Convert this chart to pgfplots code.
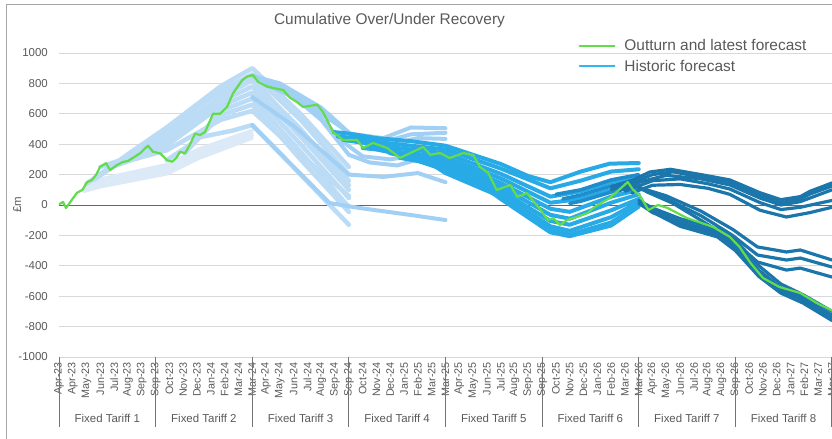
\documentclass[border=0pt]{standalone}
\usepackage{pgfplots}
\pgfplotsset{compat=1.18}
\usepackage{fontspec}
\setmainfont{Liberation Sans}
\definecolor{txt}{HTML}{595959}
\definecolor{gridc}{HTML}{D9D9D9}
\definecolor{pale}{HTML}{DCEAF7}
\definecolor{light}{HTML}{BCDCF6}
\definecolor{lmid}{HTML}{A2D0F5}
\definecolor{bright}{HTML}{27AAE6}
\definecolor{midb}{HTML}{1F8DCB}
\definecolor{dark}{HTML}{1B76AB}
\definecolor{outturn}{HTML}{62DB4C}
\definecolor{legblue}{HTML}{33B6F2}
\begin{document}
\begin{tikzpicture}
\useasboundingbox (0bp,0bp) rectangle (832bp,439bp);
\draw[color=black!35, line width=1bp] (6bp,0bp) -- (6bp,434bp) -- (840bp,434bp);
\node[text=txt, font=\fontsize{15.5}{18}\selectfont] at (389.5bp,418bp) {Cumulative Over/Under Recovery};
\node[text=txt, rotate=90, font=\fontsize{11.5}{13}\selectfont] at (17bp,234bp) {£m};
\begin{axis}[
  at={(59bp,82bp)}, anchor=south west,
  scale only axis, width=773bp, height=304bp,
  xmin=0, xmax=56, ymin=-1000, ymax=1000,
  axis line style={draw=none},
  tick style={draw=none},
  ymajorgrids, major grid style={color=gridc, line width=0.9bp},
  ytick={-1000,-800,-600,-400,-200,0,200,400,600,800,1000},
  yticklabels={-1000,-800,-600,-400,-200,0,200,400,600,800,1000},
  yticklabel style={text=txt, font=\fontsize{11.5}{13}\selectfont, inner sep=0pt},
  yticklabel shift=11bp,
  extra y ticks={0}, extra y tick labels={},
  extra y tick style={grid=major, major grid style={color=black!60, line width=0.9bp}},
  xtick={0,...,56},
  xticklabels={Apr-23,Apr-23,May-23,Jun-23,Jul-23,Aug-23,Sep-23,Sep-23,
    Oct-23,Nov-23,Dec-23,Jan-24,Feb-24,Mar-24,Mar-24,
    Apr-24,May-24,Jun-24,Jul-24,Aug-24,Sep-24,Sep-24,
    Oct-24,Nov-24,Dec-24,Jan-25,Feb-25,Mar-25,Mar-25,
    Apr-25,May-25,Jun-25,Jul-25,Aug-25,Sep-25,Sep-25,
    Oct-25,Nov-25,Dec-25,Jan-26,Feb-26,Mar-26,Mar-26,
    Apr-26,May-26,Jun-26,Jul-26,Aug-26,Aug-26,Sep-26,
    Oct-26,Nov-26,Dec-26,Jan-27,Feb-27,Mar-27,Mar-27},
  xticklabel style={rotate=90, anchor=east, text=txt, font=\fontsize{10.8}{12}\selectfont, inner sep=0pt},
  xticklabel shift=5bp,
  legend style={at={(0.672,1.052)}, anchor=north west, draw=none, fill=none,
    font=\fontsize{15.5}{17}\selectfont, text=txt, row sep=4bp, inner sep=0pt},
  legend cell align=left,
  legend image code/.code={\draw[#1] (0bp,0bp) -- (35bp,0bp); \path (42bp,0bp);},
  every axis plot/.append style={line join=round, line cap=round},
]
\addlegendimage{outturn, line width=1.8bp}
\addlegendentry{Outturn and latest forecast}
\addlegendimage{legblue, line width=1.8bp}
\addlegendentry{Historic forecast}

% ---- forecasts made in tariff 1 (pale)
\addplot[pale, line width=3.5bp, forget plot] coordinates {(1.8,90) (3,120) (7.8,205) (10.2,310) (14,440)};
\addplot[pale, line width=3.5bp, forget plot] coordinates {(1.8,110) (3,140) (7.8,225) (10.2,330) (14,455)};
\addplot[pale, line width=3.5bp, forget plot] coordinates {(2.2,140) (3.5,165) (7.8,245) (10.2,350) (14,470)};
\addplot[pale, line width=3.5bp, forget plot] coordinates {(2.5,160) (4,190) (7.8,265) (10.2,370) (14,490)};

% ---- forecasts ending Sep-24 (light)
\addplot[light, line width=4.5bp, forget plot] coordinates {(2.0,140) (5.4,360) (7.8,510) (11.7,780) (14,900) (17.5,600) (21,250)};
\addplot[light, line width=4.5bp, forget plot] coordinates {(2.5,165) (5.4,340) (7.8,480) (11.7,750) (14,860) (17.5,560) (21,200)};
\addplot[light, line width=4.5bp, forget plot] coordinates {(3.0,250) (5.4,325) (7.8,450) (11.7,710) (14,820) (17.5,500) (21,130)};
\addplot[light, line width=4.5bp, forget plot] coordinates {(4.2,265) (6,345) (7.8,420) (11.7,680) (14,780) (17.5,450) (21,100)};
\addplot[light, line width=4.5bp, forget plot] coordinates {(5.4,310) (7.8,390) (11.7,650) (14,740) (17.5,400) (21,46)};
\addplot[light, line width=4.5bp, forget plot] coordinates {(7.8,295) (9.9,420) (11.7,620) (14,700) (17.5,350) (21,-13)};
\addplot[light, line width=4.5bp, forget plot] coordinates {(9.1,340) (11.7,590) (14,660) (17.5,300) (21,-46)};
\addplot[light, line width=4.5bp, forget plot] coordinates {(9.9,440) (12.6,490) (14,526) (17.5,200) (21,-130)};
\addplot[light, line width=4.5bp, forget plot] coordinates {(3.5,240) (5.4,300) (7.8,360) (11.7,560) (14,620) (17.5,330) (21,60)};
\addplot[light, line width=4.5bp, forget plot] coordinates {(6.5,380) (9,480) (11.7,720) (14,840) (17.5,470) (21,160)};

% ---- forecasts ending Mar-25 (light-mid)
\addplot[lmid, line width=4bp, forget plot] coordinates {(14,850) (16,800) (19,640) (21,470) (23.5,440) (25.5,510) (28,505)};
\addplot[lmid, line width=4bp, forget plot] coordinates {(14.5,830) (16.5,760) (19.5,600) (21.5,435) (23.5,415) (25.5,465) (28,475)};
\addplot[lmid, line width=4bp, forget plot] coordinates {(15,790) (17.5,690) (20,540) (22,410) (24,400) (26,440) (28,435)};
\addplot[lmid, line width=4bp, forget plot] coordinates {(16,760) (18.5,620) (20.5,420) (22,320) (24,300) (26,330) (28,290)};
\addplot[lmid, line width=4bp, forget plot] coordinates {(16.5,750) (19,560) (21,330) (22.5,280) (24.5,260) (26,300) (28,250)};
\addplot[lmid, line width=4bp, forget plot] coordinates {(14,710) (17,520) (21,200) (23.5,185) (26,210) (28,150)};
\addplot[lmid, line width=4bp, forget plot] coordinates {(14,526) (19.6,13) (21.8,-20) (25.5,-66) (28,-99)};

% ---- forecasts ending Mar-26 (bright)
\addplot[bright, line width=4bp, forget plot] coordinates {(19.9,480) (21,470) (23,440) (25.5,420) (28,390) (30,330) (32,270) (34,190) (35.6,150) (37.8,220) (39.9,272) (42,276)};
\addplot[bright, line width=4bp, forget plot] coordinates {(20.2,450) (21.5,440) (23.5,410) (28,365) (32,240) (35.6,110) (37.8,160) (40,220) (42,235)};
\addplot[bright, line width=4bp, forget plot] coordinates {(20.6,428) (22,410) (24,380) (28,340) (32,205) (35.6,55) (37.8,90) (40,150) (42,180)};
\addplot[bright, line width=4bp, forget plot] coordinates {(21.6,428) (22.5,395) (24.5,350) (28,315) (32,175) (35.6,15) (37.8,40) (40,100) (42,140)};
\addplot[bright, line width=4bp, forget plot] coordinates {(22,375) (23,365) (25,330) (28,295) (32,145) (35.6,-25) (37,-45) (40,55) (42,100)};
\addplot[bright, line width=4bp, forget plot] coordinates {(22.8,408) (24,340) (28,270) (32,120) (35.6,-65) (37,-90) (40,15) (42,70)};
\addplot[bright, line width=4bp, forget plot] coordinates {(23.8,375) (25,310) (28,250) (32,95) (35.6,-105) (37,-130) (40,-35) (42,40)};
\addplot[bright, line width=4bp, forget plot] coordinates {(24.7,310) (26,290) (28,230) (32,75) (35.6,-140) (37,-170) (40,-80) (42,20)};
\addplot[bright, line width=4bp, forget plot] coordinates {(25.6,350) (28,210) (32,55) (35.6,-165) (37,-195) (40,-115) (42,0)};
\addplot[bright, line width=4bp, forget plot] coordinates {(26.4,382) (28,250) (30,170) (32,40) (35.6,-180) (37,-205) (40,-135) (42,-10)};

% ---- mid strands
\addplot[midb, line width=3.5bp, forget plot] coordinates {(36,70) (37.8,100) (40,165) (42,200)};
\addplot[midb, line width=3.5bp, forget plot] coordinates {(36.5,40) (37.8,65) (40,125) (42,160)};
\addplot[midb, line width=3.5bp, forget plot] coordinates {(37,10) (37.8,25) (40,85) (42,130)};

% ---- forecasts ending Mar-27 (dark)
\addplot[dark, line width=3.2bp, forget plot] coordinates {(40,120) (41.6,165) (42.8,217) (44.3,235) (46.5,200) (48.6,165) (50.8,80) (52.3,35) (53.7,55) (54.4,90) (56,145)};
\addplot[dark, line width=3.2bp, forget plot] coordinates {(40,100) (41.6,150) (43,200) (44.5,218) (46.5,185) (48.6,150) (50.8,62) (52.3,15) (53.7,40) (54.4,72) (56,125)};
\addplot[dark, line width=3.2bp, forget plot] coordinates {(40.5,90) (42,150) (44,195) (46.5,172) (48.6,132) (50.8,45) (52.3,0) (53.7,22) (56,100)};
\addplot[dark, line width=3.2bp, forget plot] coordinates {(41,90) (43,160) (45,172) (47,140) (48.6,105) (50.8,15) (52.3,-30) (53.7,-15) (56,30)};
\addplot[dark, line width=3.2bp, forget plot] coordinates {(41.5,80) (43,130) (45,135) (47,110) (48.6,70) (50.8,-35) (52.7,-79) (54.4,-50) (56,-15)};
\addplot[dark, line width=3.2bp, forget plot] coordinates {(41.5,130) (44,60) (46.5,-40) (48.8,-160) (50.6,-276) (52.7,-309) (53.7,-296) (56,-362)};
\addplot[dark, line width=3.2bp, forget plot] coordinates {(42,110) (44,40) (46.5,-70) (48.8,-200) (50.6,-329) (52.7,-362) (53.7,-349) (56,-408)};
\addplot[dark, line width=3.2bp, forget plot] coordinates {(42.5,90) (44.5,10) (46.5,-100) (48.8,-230) (50.6,-375) (52.7,-428) (53.7,-415) (56,-474)};
\addplot[dark, line width=3.2bp, forget plot] coordinates {(42,30) (43,-20) (45,-90) (47.7,-160) (49,-230) (50.7,-400) (52.3,-520) (53.9,-590) (56,-700)};
\addplot[dark, line width=3.2bp, forget plot] coordinates {(42,10) (43,-40) (45,-110) (47.7,-180) (49,-260) (50.7,-430) (52.3,-545) (53.9,-610) (56,-725)};
\addplot[dark, line width=3.2bp, forget plot] coordinates {(42.2,0) (43,-50) (45,-125) (47.7,-195) (49,-280) (50.7,-450) (52.3,-560) (53.9,-625) (56,-740)};
\addplot[dark, line width=3.2bp, forget plot] coordinates {(42.5,-10) (43.5,-70) (45,-140) (47.7,-210) (49,-300) (50.7,-470) (52.3,-580) (53.9,-645) (56,-760)};

% ---- outturn and latest forecast
\addplot[outturn, line width=2.2bp, forget plot] coordinates {
(0,5) (0.29,20) (0.51,-20) (0.9,30) (1.3,80) (1.7,100) (2.03,150) (2.39,165) (2.7,200) (2.97,250)
(3.41,275) (3.7,230) (4.2,263) (4.64,283) (5.0,290) (5.36,310) (5.87,340) (6.2,370) (6.45,390)
(6.81,350) (7.32,340) (7.83,295) (8.19,285) (8.5,310) (8.77,350) (9.13,340) (9.5,400) (9.86,470)
(10.22,460) (10.58,480) (11.16,600) (11.67,600) (12.17,645) (12.61,735) (13.26,820) (13.62,845)
(14.06,855) (14.42,810) (15.07,780) (15.51,770) (16.23,757) (16.74,705) (17.2,680) (17.68,645)
(18.7,660) (19.13,612) (19.86,480) (20.58,428) (21.59,428) (22.03,375) (22.75,408) (23.77,375)
(24.71,310) (25.65,350) (26.38,382) (26.9,330) (27.6,342) (28.3,309) (29.3,342) (30.0,329)
(30.5,250) (31.1,210) (31.7,99) (32.7,132) (33.2,53) (33.9,79) (34.3,33) (34.9,-33) (35.4,-99)
(35.8,-86) (36.3,-132) (36.8,-99) (37.5,-79) (38.3,-53) (38.7,-20) (39.4,20) (39.9,46) (40.4,86)
(41.2,151) (41.6,99) (42.1,60) (42.7,-33) (43.4,0) (44.1,-20) (45.5,-86) (47.4,-145) (48.6,-210)
(49.3,-276) (50.1,-382) (51.0,-480) (52.2,-540) (53.7,-579) (54.9,-645) (56,-695)};
\end{axis}
\foreach \k in {0,...,8} {
  \pgfmathsetmacro\xx{59+96.6*\k}
  \draw[color=black!55, line width=0.9bp] (\xx bp,82bp) -- (\xx bp,12bp);
}
\foreach \k in {1,...,8} {
  \pgfmathsetmacro\xx{59+96.6*(\k-0.5)}
  \node[text=txt, font=\fontsize{11.5}{13}\selectfont] at (\xx bp,21bp) {Fixed Tariff \k};
}
\end{tikzpicture}
\end{document}
